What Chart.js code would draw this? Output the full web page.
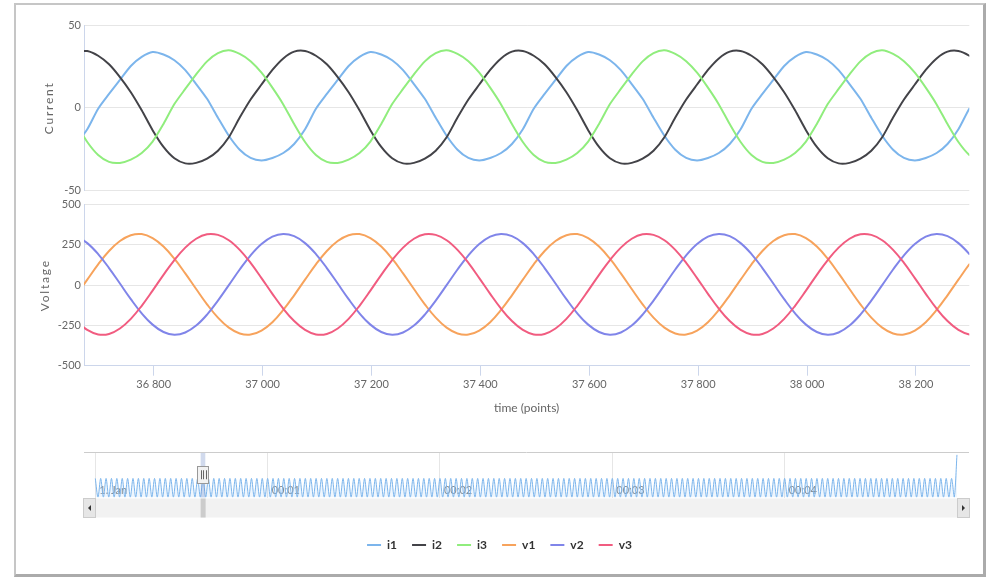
<!DOCTYPE html>
<html>
<head>
<meta charset="utf-8">
<script src="https://cdn.jsdelivr.net/npm/chart.js@4/dist/chart.umd.min.js"></script>
<style>
html,body{margin:0;padding:0;background:#fff;}
body{width:989px;height:577px;position:relative;overflow:hidden;}
#frame{position:absolute;left:14px;top:3px;width:967px;height:569px;border-left:2px solid #c6c6c6;border-top:2px solid #c6c6c6;border-right:3px solid #ababab;border-bottom:3px solid #ababab;box-sizing:content-box;}
canvas{position:absolute;left:0;}
</style>
</head>
<body>
<div id="frame"></div>
<canvas id="cA" width="989" height="200" style="top:0px"></canvas>
<canvas id="cB" width="989" height="230" style="top:195px"></canvas>
<canvas id="cC" width="989" height="137" style="top:440px"></canvas>
<script>
// ---------- data ----------
const time = [
36658,36678,36698,36718,36738,36758,36778,36798,36818,36838,
36858,36878,36898,36918,36938,36958,36978,36998,37018,37038,
37058,37078,37098,37118,37138,37158,37178,37198,37218,37238,
37258,37278,37298,37318,37338,37358,37378,37398,37418,37438,
37458,37478,37498,37518,37538,37558,37578,37598,37618,37638,
37658,37678,37698,37718,37738,37758,37778,37798,37818,37838,
37858,37878,37898,37918,37938,37958,37978,37998,38018,38038,
38058,38078,38098,38118,38138,38158,38178,38198,38218,38238,
38258,38278,38298,38318];

const i1 = [
-22,-13,-0.5,8.5,17,25.5,31,
34,32.5,29,23,14.5,5.5,-6,-17,-25.5,-30.5,-32,-30.5,-27.5,-22,-13,-0.5,8.5,17,25.5,31,
34,32.5,29,23,14.5,5.5,-6,-17,-25.5,-30.5,-32,-30.5,-27.5,-22,-13,-0.5,8.5,17,25.5,31,
34,32.5,29,23,14.5,5.5,-6,-17,-25.5,-30.5,-32,-30.5,-27.5,-22,-13,-0.5,8.5,17,25.5,31,
34,32.5,29,23,14.5,5.5,-6,-17,-25.5,-30.5,-32,-30.5,-27.5,-22,-13,-0.5,8.5];

const i2 = [
34.2,
34.6,31.7,26.5,18.7,9.5,-1.5,-13.6,-23.8,-30.7,-33.8,-33.5,-30.9,-26.1,-17.9,-5.9,5.1,14.2,23.1,30.1,34.2,
34.6,31.7,26.5,18.7,9.5,-1.5,-13.6,-23.8,-30.7,-33.8,-33.5,-30.9,-26.1,-17.9,-5.9,5.1,14.2,23.1,30.1,34.2,
34.6,31.7,26.5,18.7,9.5,-1.5,-13.6,-23.8,-30.7,-33.8,-33.5,-30.9,-26.1,-17.9,-5.9,5.1,14.2,23.1,30.1,34.2,
34.6,31.7,26.5,18.7,9.5,-1.5,-13.6,-23.8,-30.7,-33.8,-33.5,-30.9,-26.1,-17.9,-5.9,5.1,14.2,23.1,30.1,34.2,
34.6,31.7,26.5];

const i3 = [
-9.9,-20.8,-28.7,-32.9,-33.5,-31.5,-27.5,-20.5,-9.8,2.3,11.5,20.4,28.3,33.3,
35.0,32.8,28.4,21.4,12.3,2.1,-9.9,-20.8,-28.7,-32.9,-33.5,-31.5,-27.5,-20.5,-9.8,2.3,11.5,20.4,28.3,33.3,
35.0,32.8,28.4,21.4,12.3,2.1,-9.9,-20.8,-28.7,-32.9,-33.5,-31.5,-27.5,-20.5,-9.8,2.3,11.5,20.4,28.3,33.3,
35.0,32.8,28.4,21.4,12.3,2.1,-9.9,-20.8,-28.7,-32.9,-33.5,-31.5,-27.5,-20.5,-9.8,2.3,11.5,20.4,28.3,33.3,
35.0,32.8,28.4,21.4,12.3,2.1,-9.9,-20.8,-28.7,-32.9];

const v1 = [
-63,34,129,212,274,310,
317,292,240,164,73,-24,-119,-202,-264,-300,-307,-282,-230,-154,-63,34,129,212,274,310,
317,292,240,164,73,-24,-119,-202,-264,-300,-307,-282,-230,-154,-63,34,129,212,274,310,
317,292,240,164,73,-24,-119,-202,-264,-300,-307,-282,-230,-154,-63,34,129,212,274,310,
317,292,240,164,73,-24,-119,-202,-264,-300,-307,-282,-230,-154,-63,34,129,212];

const v2 = [
304,261,193,106,10,-87,-175,-245,-291,-308,-294,-251,-183,-96,0,97,185,255,301,318,
304,261,193,106,10,-87,-175,-245,-291,-308,-294,-251,-183,-96,0,97,185,255,301,318,
304,261,193,106,10,-87,-175,-245,-291,-308,-294,-251,-183,-96,0,97,185,255,301,318,
304,261,193,106,10,-87,-175,-245,-291,-308,-294,-251,-183,-96,0,97,185,255,301,318,
304,261,193,106];

const v3 = [
-223,-278,-306,-303,-269,-209,-128,-34,64,156,233,288,316,
312,279,219,138,44,-54,-146,-223,-278,-306,-303,-269,-209,-128,-34,64,156,233,288,316,
312,279,219,138,44,-54,-146,-223,-278,-306,-303,-269,-209,-128,-34,64,156,233,288,316,
312,279,219,138,44,-54,-146,-223,-278,-306,-303,-269,-209,-128,-34,64,156,233,288,316,
312,279,219,138,44,-54,-146,-223,-278,-306,-303];

const viewMin = 36672, viewMax = 38298;
const timeTicks = [36800,37000,37200,37400,37600,37800,38000,38200];
const timeTickLabels = ['36 800','37 000','37 200','37 400','37 600','37 800','38 000','38 200'];
const currentTicks = [-50,0,50];
const voltageTicks = [-500,-250,0,250,500];

const seriesNames = ['i1','i2','i3','v1','v2','v3'];
const seriesColors = ['#7cb5ec','#434348','#90ed7d','#f7a35c','#8085e9','#f15c80'];

// navigator (whole record, i1)
const navStep = 937.5;
const navValues = [
34,-32,34,-32,34,-32,34,-32,34,-32,34,-32,34,-32,34,-32,34,-32,34,-32,
34,-32,34,-32,34,-32,34,-32,34,-32,34,-32,34,-32,34,-32,34,-32,34,-32,
34,-32,34,-32,34,-32,34,-32,34,-32,34,-32,34,-32,34,-32,34,-32,34,-32,
34,-32,34,-32,34,-32,34,-32,34,-32,34,-32,34,-32,34,-32,34,-32,34,-32,
34,-32,34,-32,34,-32,34,-32,34,-32,34,-32,34,-32,34,-32,34,-32,34,-32,
34,-32,34,-32,34,-32,34,-32,34,-32,34,-32,34,-32,34,-32,34,-32,34,-32,
34,-32,34,-32,34,-32,34,-32,34,-32,34,-32,34,-32,34,-32,34,-32,34,-32,
34,-32,34,-32,34,-32,34,-32,34,-32,34,-32,34,-32,34,-32,34,-32,34,-32,
34,-32,34,-32,34,-32,34,-32,34,-32,34,-32,34,-32,34,-32,34,-32,34,-32,
34,-32,34,-32,34,-32,34,-32,34,-32,34,-32,34,-32,34,-32,34,-32,34,-32,
34,-32,34,-32,34,-32,34,-32,34,-32,34,-32,34,-32,34,-32,34,-32,34,-32,
34,-32,34,-32,34,-32,34,-32,34,-32,34,-32,34,-32,34,-32,34,-32,34,-32,
34,-32,34,-32,34,-32,34,-32,34,-32,34,-32,34,-32,34,-32,34,-32,34,-32,
34,-32,34,-32,34,-32,34,-32,34,-32,34,-32,34,-32,34,-32,34,-32,34,-32,
34,-32,34,-32,34,-32,34,-32,34,-32,34,-32,34,-32,34,-32,34,-32,34,-32,
34,-32,34,-32,34,-32,34,-32,34,-32,34,-32,34,-32,34,-32,34,-32,34,-32,
117];
const navMin = -3934, navMax = 304190;
const navTicks = [0,60000,120000,180000,240000];
const navTickLabels = ['1. Jan','00:01','00:02','00:03','00:04'];

// ---------- setup ----------
Chart.defaults.font.family = 'Lato, "DejaVu Sans", sans-serif';
Chart.defaults.color = '#666';
Chart.defaults.animation = false;
Chart.defaults.events = [];
Chart.defaults.plugins.tooltip.enabled = false;

function series(idx, values, tension) {
  return {
    label: seriesNames[idx],
    data: time.map((t, k) => ({x: t, y: values[k]})),
    borderColor: seriesColors[idx],
    backgroundColor: seriesColors[idx],
    borderWidth: 2,
    pointRadius: 0,
    fill: false,
    tension: tension,
    borderJoinStyle: 'round',
    borderCapStyle: 'round',
    order: 10 - idx
  };
}

const spacedTitle = {
  id: 'spacedTitle',
  beforeDraw(chart) {
    Object.values(chart.scales).forEach(s => {
      if (s.axis === 'y' && s.options.title && s.options.title.display && !s.__sp) {
        const orig = s.drawTitle;
        s.drawTitle = function () {
          const c = this.ctx; c.save(); c.letterSpacing = '1.8px'; orig.call(this); c.restore();
        };
        s.__sp = true;
      }
    });
  }
};

function yAxis(ticksArr, min, max, title, titlePad) {
  return {
    min: min, max: max,
    afterBuildTicks: a => { a.ticks = ticksArr.map(v => ({value: v})); },
    afterFit: s => { s.width = 84; },
    grid: {color: '#e6e6e6', drawTicks: false},
    border: {display: true, color: '#ccd6eb'},
    ticks: {padding: 3, color: '#666', font: {size: 11}},
    title: {display: true, text: title, color: '#666', font: {size: 12}, padding: {top: titlePad, bottom: 0}}
  };
}

// ---------- current ----------
new Chart(document.getElementById('cA'), {
  type: 'line',
  data: {datasets: [series(0, i1, 0.25), series(1, i2, 0.25), series(2, i3, 0.25)]},
  options: {
    responsive: false,
    layout: {padding: {left: 0, right: 19.7, top: 25.7, bottom: 10}},
    plugins: {legend: {display: false}},
    scales: {
      x: {type: 'linear', min: viewMin, max: viewMax, display: false},
      y: yAxis(currentTicks, -50, 50, 'Current', 41.8)
    }
  },
  plugins: [spacedTitle]
});

// ---------- voltage ----------
new Chart(document.getElementById('cB'), {
  type: 'line',
  data: {datasets: [series(3, v1, 0.4), series(4, v2, 0.4), series(5, v3, 0.4)]},
  options: {
    responsive: false,
    layout: {padding: {left: 0, right: 19.7, top: 8.3, bottom: 0}},
    plugins: {legend: {display: false}},
    scales: {
      x: {
        type: 'linear', min: viewMin, max: viewMax,
        afterBuildTicks: a => { a.ticks = timeTicks.map(v => ({value: v})); },
        afterFit: s => { s.height = 59.3; },
        grid: {drawOnChartArea: false, drawTicks: true, tickLength: 10, color: '#ccd6eb'},
        border: {display: true, color: '#ccd6eb'},
        ticks: {padding: 1.7, maxRotation: 0, autoSkip: false, color: '#666', font: {size: 11},
                callback: v => timeTickLabels[timeTicks.indexOf(v)]},
        title: {display: true, text: 'time (points)', color: '#666', font: {size: 12}, padding: {top: 0, bottom: 9.8}}
      },
      y: yAxis(voltageTicks, -500, 500, 'Voltage', 37.8)
    }
  },
  plugins: [spacedTitle]
});

// ---------- navigator + legend ----------
const navigatorDecor = {
  id: 'navigatorDecor',
  afterDraw(chart) {
    const {ctx, chartArea: a, scales} = chart;
    const x = scales.x;
    const p0 = x.getPixelForValue(viewMin), p1 = x.getPixelForValue(viewMax);
    ctx.save();
    // selected zone mask
    ctx.fillStyle = 'rgba(102,133,194,0.3)';
    ctx.fillRect(p0, a.top, p1 - p0, a.bottom - a.top);
    // outline
    ctx.strokeStyle = '#cccccc'; ctx.lineWidth = 1;
    ctx.beginPath(); ctx.moveTo(a.left, Math.round(a.top) + 0.5); ctx.lineTo(a.right, Math.round(a.top) + 0.5); ctx.stroke();
    // scrollbar track
    const sy = Math.round(a.bottom) + 0.5, sh = 19;
    ctx.fillStyle = '#f2f2f2';
    ctx.fillRect(a.left, sy, a.right - a.left, sh);
    // thumb
    ctx.fillStyle = '#cccccc';
    ctx.fillRect(p0, sy, Math.max(p1 - p0, 5), sh);
    // buttons
    function button(bx, dir) {
      ctx.fillStyle = '#e6e6e6'; ctx.strokeStyle = '#cccccc';
      ctx.fillRect(bx, sy, 12, sh); ctx.strokeRect(bx + 0.5, sy, 12, sh);
      const cx = bx + 6.5, cy = sy + sh / 2;
      ctx.fillStyle = '#333';
      ctx.beginPath();
      ctx.moveTo(cx - 1.5 * dir, cy); ctx.lineTo(cx + 1.5 * dir, cy - 3); ctx.lineTo(cx + 1.5 * dir, cy + 3);
      ctx.closePath(); ctx.fill();
    }
    button(Math.round(a.left) - 1, 1);
    button(Math.round(a.right) - 12, -1);
    // handle
    const c = (p0 + p1) / 2, hy = (a.top + a.bottom) / 2;
    ctx.fillStyle = '#f2f2f2'; ctx.strokeStyle = '#999999'; ctx.lineWidth = 1;
    ctx.fillRect(Math.round(c) - 6, Math.round(hy) - 8.5, 12, 17);
    ctx.strokeRect(Math.round(c) - 5.5, Math.round(hy) - 8.5, 11, 17);
    ctx.strokeStyle = '#666';
    [-2, 0.5, 3].forEach(d => {
      ctx.beginPath(); ctx.moveTo(Math.round(c + d) + 0.5, hy - 4.5); ctx.lineTo(Math.round(c + d) + 0.5, hy + 4.5); ctx.stroke();
    });
    ctx.restore();
  }
};

new Chart(document.getElementById('cC'), {
  type: 'line',
  data: {datasets: [{
    label: 'i1',
    data: navValues.map((v, i) => ({x: i * navStep, y: v})),
    borderColor: seriesColors[0], borderWidth: 1, pointRadius: 0, tension: 0.3,
    fill: 'start', backgroundColor: 'rgba(124,181,236,0.12)'
  }]},
  options: {
    responsive: false,
    layout: {padding: {left: 10, right: 0, top: 12, bottom: 16}},
    plugins: {
      legend: {
        display: true, position: 'bottom', align: 'center',
        labels: {
          usePointStyle: true, pointStyle: 'line', pointStyleWidth: 14, padding: 15,
          color: '#333', font: {size: 12, weight: 'bold'},
          generateLabels: () => seriesNames.map((n, i) => ({
            text: n, strokeStyle: seriesColors[i], fillStyle: seriesColors[i], fontColor: '#333',
            lineWidth: 2, pointStyle: 'line', hidden: false, datasetIndex: i
          }))
        }
      }
    },
    scales: {
      x: {
        type: 'linear', min: navMin, max: navMax,
        afterBuildTicks: a => { a.ticks = navTicks.map(v => ({value: v})); },
        afterFit: s => { s.height = 26.5; },
        grid: {color: '#e6e6e6', drawTicks: false},
        border: {display: false},
        ticks: {mirror: true, align: 'start', labelOffset: 4, padding: 0, maxRotation: 0, autoSkip: false,
                color: '#888', font: {size: 11}, callback: v => navTickLabels[navTicks.indexOf(v)]}
      },
      y: {min: -33, max: 127, afterFit: s => { s.width = 74; },
          ticks: {display: false}, grid: {display: false}, border: {display: false}},
      y2: {type: 'linear', axis: 'y', position: 'right', min: 0, max: 1, afterFit: s => { s.width = 20; },
          ticks: {display: false}, grid: {display: false}, border: {display: false}}
    }
  },
  plugins: [navigatorDecor]
});
</script>
</body>
</html>
